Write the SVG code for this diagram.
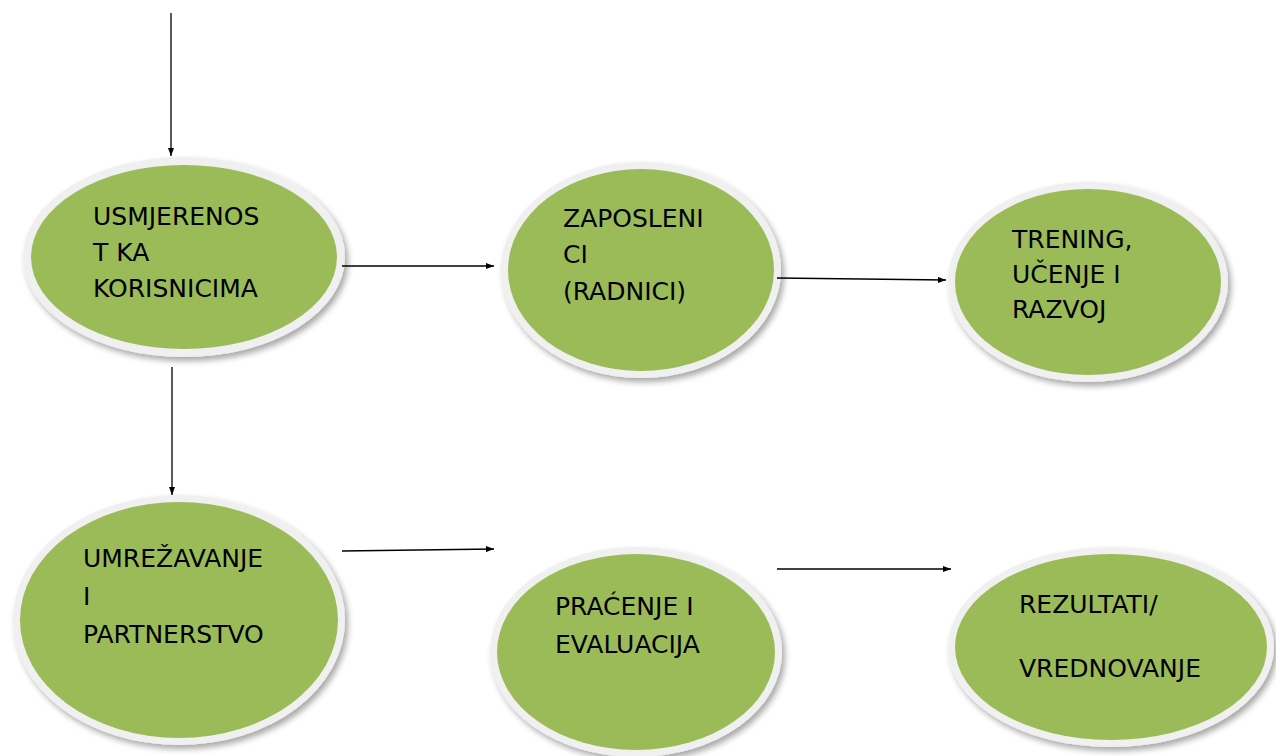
<svg xmlns="http://www.w3.org/2000/svg" width="1276" height="756" viewBox="0 0 1276 756">
<defs>
<style>
.bg{fill:#ffffff}
.rim{fill:#f0f0f0}
.core{fill:#9bbb59}
.lbl{font-family:"DejaVu Sans",sans-serif;font-size:25px;fill:#000}
.con{stroke:#000;stroke-width:1.3;fill:none;marker-end:url(#ah)}
</style>
<marker id="ah" markerWidth="8" markerHeight="6" refX="8" refY="3" orient="auto" markerUnits="userSpaceOnUse">
<path d="M0,0 L8,3 L0,6 z" fill="#000"/>
</marker>
<filter id="sh" x="-10%" y="-10%" width="125%" height="125%">
<feGaussianBlur in="SourceAlpha" stdDeviation="3"/>
<feOffset dx="3" dy="4" result="b"/>
<feComponentTransfer><feFuncA type="linear" slope="0.35"/></feComponentTransfer>
<feMerge><feMergeNode/><feMergeNode in="SourceGraphic"/></feMerge>
</filter>
</defs>
<rect class="bg" width="1276" height="756"/>
<g id="n1">
<ellipse class="rim" filter="url(#sh)" cx="184" cy="257" rx="161" ry="100"/>
<ellipse class="core" cx="184" cy="257" rx="153" ry="92"/>
<text class="lbl" x="93" y="225">USMJERENOS</text>
<text class="lbl" x="93" y="261">T KA</text>
<text class="lbl" x="93" y="297">KORISNICIMA</text>
</g>
<g id="n2">
<ellipse class="rim" filter="url(#sh)" cx="641" cy="270" rx="140" ry="108"/>
<ellipse class="core" cx="641" cy="270" rx="133" ry="101"/>
<text class="lbl" x="563" y="227">ZAPOSLENI</text>
<text class="lbl" x="563" y="263">CI</text>
<text class="lbl" x="563" y="300">(RADNICI)</text>
</g>
<g id="n3">
<ellipse class="rim" filter="url(#sh)" cx="1088" cy="282" rx="140" ry="100"/>
<ellipse class="core" cx="1088" cy="282" rx="133" ry="93"/>
<text class="lbl" x="1012" y="248">TRENING,</text>
<text class="lbl" x="1012" y="283">UČENJE I</text>
<text class="lbl" x="1012" y="318">RAZVOJ</text>
</g>
<g id="n4">
<ellipse class="rim" filter="url(#sh)" cx="179" cy="620" rx="166" ry="125"/>
<ellipse class="core" cx="179" cy="620" rx="159" ry="118"/>
<text class="lbl" x="83" y="567">UMREŽAVANJE</text>
<text class="lbl" x="83" y="605">I</text>
<text class="lbl" x="83" y="643">PARTNERSTVO</text>
</g>
<g id="n5">
<ellipse class="rim" filter="url(#sh)" cx="636" cy="652" rx="146" ry="105"/>
<ellipse class="core" cx="636" cy="652" rx="139" ry="98"/>
<text class="lbl" x="555" y="615">PRAĆENJE I</text>
<text class="lbl" x="555" y="653">EVALUACIJA</text>
</g>
<g id="n6">
<ellipse class="rim" filter="url(#sh)" cx="1111" cy="647" rx="163" ry="100"/>
<ellipse class="core" cx="1111" cy="647" rx="156" ry="93"/>
<text class="lbl" x="1019" y="613">REZULTATI/</text>
<text class="lbl" x="1019" y="677">VREDNOVANJE</text>
</g>
<g id="connectors">
<line class="con" x1="171" y1="13" x2="171" y2="156"/>
<line class="con" x1="172" y1="367" x2="172" y2="495"/>
<line class="con" x1="342" y1="266" x2="494" y2="266"/>
<line class="con" x1="777" y1="278" x2="946" y2="280"/>
<line class="con" x1="342" y1="551" x2="494" y2="549"/>
<line class="con" x1="777" y1="569" x2="951" y2="569"/>
</g>
</svg>
